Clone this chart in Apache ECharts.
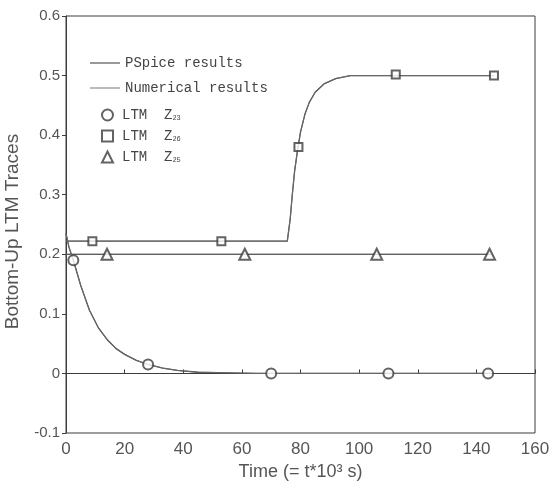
<!DOCTYPE html>
<html>
<head>
<meta charset="utf-8">
<script src="https://cdn.jsdelivr.net/npm/echarts@6/dist/echarts.min.js"></script>
<style>html,body{margin:0;padding:0;background:#fff;}#c{width:552px;height:488px;}</style>
</head>
<body>
<div id="c"></div>
<script>
// ---- data ----
var xTicks = [0, 20, 40, 60, 80, 100, 120, 140, 160];
var yTicks = ['-0.1', '0', '0.1', '0.2', '0.3', '0.4', '0.5', '0.6'];

// continuous traces [time, value]
var traceZ23 = [[0,0.235],[1,0.212],[2.5,0.19],[5,0.148],[8,0.106],[11,0.077],[14,0.057],[17,0.042],[20,0.032],[24,0.022],[28,0.015],[33,0.009],[38,0.005],[45,0.002],[55,0.001],[65,0],[145,0]];
var traceZ26 = [[0,0.222],[75.5,0.222],[76.5,0.26],[77.2,0.3],[78,0.34],[79,0.375],[80,0.405],[81.5,0.435],[83,0.455],[85,0.472],[88,0.486],[92,0.495],[97,0.5],[146,0.5]];
var traceZ25 = [[0,0.2],[145,0.2]];

// LTM markers
var markZ23 = [[2.5,0.19],[28,0.015],[70,0],[110,0],[144,0]];
var markZ26 = [[9,0.222],[53,0.222],[79.3,0.38],[112.5,0.502],[146,0.5]];
var markZ25 = [[14,0.2],[61,0.2],[106,0.2],[144.5,0.2]];

var C = '#3c3c3c';
var LINE_ICON = 'path://M0,0L60,0L60,2L0,2Z';
var chart = echarts.init(document.getElementById('c'), null, {renderer: 'canvas'});

function pspice(d) {
  return {name: 'PSpice results', type: 'line', data: d, symbol: 'none', smooth: false,
    lineStyle: {color: C, width: 1.3}, itemStyle: {color: C}, z: 2, silent: true};
}
function numerical(d) {
  return {name: 'Numerical results', type: 'line', data: d, symbol: 'none', smooth: false,
    lineStyle: {color: '#777', width: 0.8}, itemStyle: {color: '#777'}, z: 3, silent: true};
}
function marks(name, sym, d, size) {
  return {name: name, type: 'scatter', data: d, symbol: sym, symbolSize: size,
    itemStyle: {color: C, borderColor: C, borderWidth: 1}, z: 5, silent: true};
}

var option = {
  backgroundColor: '#fff',
  animation: false,
  grid: {left: 66, right: 17, top: 16, bottom: 55, show: true, borderColor: C, borderWidth: 1,
         containLabel: false, outerBoundsMode: 'none'},
  legend: [
    {data: [{name: 'PSpice results', icon: LINE_ICON, itemStyle: {color: '#333'}}, {name: 'Numerical results', icon: LINE_ICON, itemStyle: {color: '#777'}}],
     orient: 'vertical', left: 85, top: 51,
     itemWidth: 30, itemHeight: 14, itemGap: 11, selectedMode: false,
     textStyle: {fontFamily: 'Liberation Mono', fontSize: 14, color: '#444'}},
    {data: [{name: 'LTM Z23', icon: 'emptyCircle'}, {name: 'LTM Z26', icon: 'emptyRect'}, {name: 'LTM Z25', icon: 'emptyTriangle'}],
     orient: 'vertical', left: 96, top: 103,
     itemWidth: 11, itemHeight: 11, itemGap: 7, selectedMode: false,
     formatter: function (n) { var p = n.split(' '); return 'LTM  ' + p[1].charAt(0) + '{s|' + p[1].slice(1) + '}'; },
     textStyle: {fontFamily: 'Liberation Mono', fontSize: 14, color: '#444', padding: [0, 0, 0, 4],
       rich: {s: {fontFamily: 'Liberation Mono', fontSize: 7, color: '#444', padding: [6, 0, 0, 0]}}}}
  ],
  xAxis: {
    type: 'value', min: 0, max: 160, interval: 20,
    name: 'Time (= t*10³ s)', nameLocation: 'middle', nameGap: 30,
    nameTextStyle: {fontFamily: 'Liberation Sans', fontSize: 18, color: '#555'},
    axisLine: {show: true, lineStyle: {color: C, width: 1}},
    axisTick: {show: true, inside: true, length: 4, lineStyle: {color: C}},
    axisLabel: {fontFamily: 'Liberation Sans', fontSize: 17, color: '#555', margin: 8,
      formatter: function (v) { return xTicks.indexOf(v) >= 0 ? String(v) : ''; }},
    splitLine: {show: false}
  },
  yAxis: {
    type: 'value', min: -0.1, max: 0.6, interval: 0.1,
    name: 'Bottom-Up LTM Traces', nameLocation: 'middle', nameGap: 44, nameRotate: 90,
    nameTextStyle: {fontFamily: 'Liberation Sans', fontSize: 19, color: '#555', padding: [0, 14, 0, 0]},
    axisLine: {show: true, lineStyle: {color: C, width: 1}},
    axisTick: {show: true, inside: false, length: 4, lineStyle: {color: C}},
    axisLabel: {fontFamily: 'Liberation Sans', fontSize: 15, color: '#555', margin: 6,
      formatter: function (v) { var i = Math.round((v + 0.1) * 10); return yTicks[i] !== undefined ? yTicks[i] : ''; }},
    splitLine: {show: false}
  },
  series: [
    pspice(traceZ23), pspice(traceZ26), pspice(traceZ25),
    numerical(traceZ23), numerical(traceZ26), numerical(traceZ25),
    marks('LTM Z23', 'emptyCircle', markZ23, 10),
    marks('LTM Z26', 'emptyRect', markZ26, 8),
    marks('LTM Z25', 'emptyTriangle', markZ25, 11)
  ]
};
chart.setOption(option);
</script>
</body>
</html>
